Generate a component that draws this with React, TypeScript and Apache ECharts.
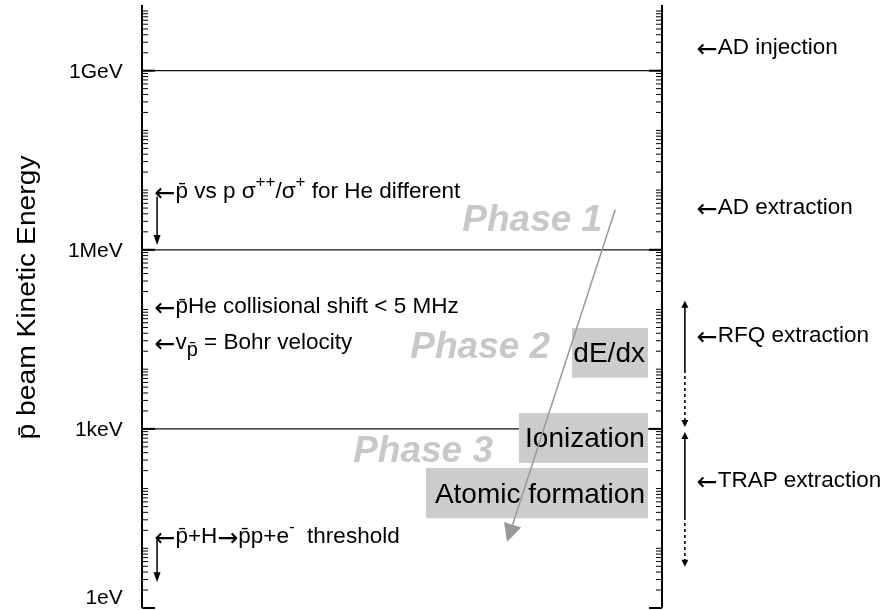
import React, { useEffect, useRef } from "react";
import * as echarts from "echarts";

// ---------- data ----------
const Y_MIN_EV = 1;
const Y_MAX_EV = 1.26e10;

const majorEnergies = [1, 1e3, 1e6, 1e9];
const majorLabels = ["1eV", "1keV", "1MeV", "1GeV"];
const tickDecades = [1, 10, 100, 1e3, 1e4, 1e5, 1e6, 1e7, 1e8, 1e9];
const tickMultipliers = [2, 3, 4, 5, 6, 7, 8, 9, 10];

const yTitle = "p\u0304 beam Kinetic Energy";

const leftNotes = [
  "{ar|\u2190}{n|p\u0304 vs p \u03c3}{sup|++}{n|/\u03c3}{sup|+}{n| for He different}",
  "{ar|\u2190}{n|p\u0304He collisional shift < 5 MHz}",
  "{ar|\u2190}{n|v}{sub|p\u0304}{n| = Bohr velocity}",
  "{ar|\u2190}{n|p\u0304+H}{ar|\u2192}{n|p\u0304p+e}{sup|-}{n|  threshold}",
];
const leftNoteEnergies = [1.0e7, 1.15e5, 2.9e4, 16.7];
const leftArrowFrom = [7.7e6, 13.8];
const leftArrowTo = [1.2e6, 2.7];

const rightNotes = [
  "{ar|\u2190}{n|AD injection}",
  "{ar|\u2190}{n|AD extraction}",
  "{ar|\u2190}{n|RFQ extraction}",
  "{ar|\u2190}{n|TRAP extraction}",
];
const rightNoteEnergies = [2.5e9, 5.3e6, 3.8e4, 140];
const rangeTop = [1.4e5, 891];
const rangeSolidEnd = [9.7e3, 33.5];
const rangeBottom = [1.08e3, 4.9];

const phaseNames = ["Phase 1", "Phase 2", "Phase 3"];
const phaseEnergies = [3.4e6, 2.5e4, 445];

const processNames = ["dE/dx", "Ionization", "Atomic formation"];
const processTop = [4.9e4, 1.85e3, 222];
const processBottom = [7.2e3, 269, 32];

const pathEnergies = [4.7e6, 12.8];

// ---------- layout / style ----------
const GRID = { left: 142, top: 5, width: 520, height: 603 };
const FONT = '"Liberation Sans", Arial, Helvetica, sans-serif';
const ARROW_FONT = '"DejaVu Sans", sans-serif';
const NOTE_SIZE = 22.5;
const MAJOR_TICK = 13;
const MINOR_TICK = 6;
const X_AXIS_LABEL = -3.7;
const X_LEFT_NOTE = 2.4;
const X_LEFT_ARROW = 2.9;
const X_RIGHT_NOTE = 106.7;
const X_RIGHT_ARROW = 104.4;
const PHASE_RIGHT_X = [88.5, 78.5, 67.5];
const PROCESS_LEFT_X = [82.7, 72.5, 54.6];
const PROCESS_RIGHT_X = 97.3;
const PATH_X = [91.0, 70.2];
const MIN_LABEL_SHIFT = -12;

function arrowHead(tip: number[], from: number[], len: number, half: number) {
  const dx = tip[0] - from[0];
  const dy = tip[1] - from[1];
  const L = Math.hypot(dx, dy) || 1;
  const ux = dx / L;
  const uy = dy / L;
  const bx = tip[0] - ux * len;
  const by = tip[1] - uy * len;
  return [
    [tip[0], tip[1]],
    [bx - uy * half, by + ux * half],
    [bx + uy * half, by - ux * half],
  ];
}

export default function App() {
  const ref = useRef<HTMLDivElement>(null);
  useEffect(() => {
    const chart = echarts.init(ref.current!, null, { renderer: "svg" });
    chart.setOption({
      animation: false,
      grid: { left: GRID.left, top: GRID.top, width: GRID.width, height: GRID.height },
      xAxis: { type: "value", min: 0, max: 100, show: false },
      yAxis: { type: "value", min: Math.log10(Y_MIN_EV), max: Math.log10(Y_MAX_EV), show: false },
      series: [{ type: "scatter", data: [] }],
    });
    const P = (x: number, e: number) =>
      chart.convertToPixel({ gridIndex: 0 } as any, [x, Math.log10(e)]) as number[];

    const g: any[] = [];
    const xL = P(0, 1)[0];
    const xR = P(100, 1)[0];
    const yTop = P(0, Y_MAX_EV)[1];
    const yBot = P(0, Y_MIN_EV)[1];

    const line = (x1: number, y1: number, x2: number, y2: number, style: any, z = 1) =>
      g.push({ type: "line", silent: true, z, shape: { x1, y1, x2, y2 }, style: { stroke: "#000", ...style } });

    // split lines
    majorEnergies.forEach((e) => {
      if (e === Y_MIN_EV) return;
      const y = P(0, e)[1];
      line(xL, y, xR, y, { lineWidth: 1.2, stroke: "#111" }, 1);
    });

    // process boxes
    processNames.forEach((name, i) => {
      const a = P(PROCESS_LEFT_X[i], processTop[i]);
      const b = P(PROCESS_RIGHT_X, processBottom[i]);
      g.push({
        type: "rect",
        silent: true,
        z: 2,
        shape: { x: a[0], y: a[1], width: b[0] - a[0], height: b[1] - a[1] },
        style: { fill: "#cccccc" },
      });
      g.push({
        type: "text",
        silent: true,
        z: 3,
        x: b[0] - 3,
        y: (a[1] + b[1]) / 2,
        style: {
          text: name,
          fontSize: 28,
          fontFamily: FONT,
          fill: "#000",
          align: "right",
          verticalAlign: "middle",
        },
      });
    });

    // phase labels
    phaseNames.forEach((name, i) => {
      const p = P(PHASE_RIGHT_X[i], phaseEnergies[i]);
      g.push({
        type: "text",
        silent: true,
        z: 3,
        x: p[0],
        y: p[1],
        style: {
          text: name,
          fontSize: 37,
          fontWeight: "bold",
          fontStyle: "italic",
          fontFamily: FONT,
          fill: "#c8c8c8",
          align: "right",
          verticalAlign: "middle",
        },
      });
    });

    // axis lines
    line(xL, yTop, xL, yBot, { lineWidth: 2 }, 5);
    line(xR, yTop, xR, yBot, { lineWidth: 2 }, 5);

    // major ticks + labels
    majorEnergies.forEach((e, i) => {
      const y = P(0, e)[1];
      line(xL, y, xL + MAJOR_TICK, y, { lineWidth: 2 }, 5);
      line(xR - MAJOR_TICK, y, xR, y, { lineWidth: 2 }, 5);
      const lp = P(X_AXIS_LABEL, e);
      g.push({
        type: "text",
        silent: true,
        z: 5,
        x: lp[0],
        y: lp[1] + (e === Y_MIN_EV ? MIN_LABEL_SHIFT : 0),
        style: {
          text: majorLabels[i],
          fontSize: 21,
          fontFamily: FONT,
          fill: "#000",
          align: "right",
          verticalAlign: "middle",
        },
      });
    });

    // minor ticks
    tickDecades.forEach((d) => {
      tickMultipliers.forEach((k) => {
        const e = k * d;
        if (e > Y_MAX_EV) return;
        if (majorEnergies.some((m) => Math.abs(m - e) / m < 1e-9)) return;
        const y = P(0, e)[1];
        line(xL, y, xL + MINOR_TICK, y, { lineWidth: 1 }, 5);
        line(xR - MINOR_TICK, y, xR, y, { lineWidth: 1 }, 5);
      });
    });

    // y title
    g.push({
      type: "text",
      silent: true,
      z: 5,
      x: 27,
      y: (yTop + yBot) / 2 - 9,
      rotation: Math.PI / 2,
      scaleX: 1.13,
      style: {
        text: yTitle,
        fontSize: 25,
        fontFamily: FONT,
        fill: "#000",
        align: "center",
        verticalAlign: "middle",
      },
    });

    const rich = {
      n: { fontSize: NOTE_SIZE, fontFamily: FONT, fill: "#000", lineHeight: 30 },
      ar: { fontSize: 25, fontFamily: ARROW_FONT, fill: "#000", lineHeight: 30, padding: [4, 0, 0, 0] },
      sup: { fontSize: 17, fontFamily: FONT, fill: "#000", lineHeight: 30, padding: [0, 0, 17, 0] },
      sub: { fontSize: 20, fontFamily: FONT, fill: "#000", lineHeight: 30, padding: [14, 0, 0, 0] },
    };

    // left notes
    leftNotes.forEach((t, i) => {
      const p = P(X_LEFT_NOTE, leftNoteEnergies[i]);
      g.push({
        type: "text",
        silent: true,
        z: 6,
        x: p[0],
        y: p[1],
        style: { text: t, rich, fontSize: NOTE_SIZE, fontFamily: FONT, fill: "#000", align: "left", verticalAlign: "middle" },
      });
    });
    leftArrowFrom.forEach((e, i) => {
      const a = P(X_LEFT_ARROW, e);
      const b = P(X_LEFT_ARROW, leftArrowTo[i]);
      line(a[0], a[1], b[0], b[1] - 8, { lineWidth: 1.5 }, 6);
      g.push({ type: "polygon", silent: true, z: 6, shape: { points: arrowHead(b, a, 10, 3.5) }, style: { fill: "#000" } });
    });

    // right notes
    rightNotes.forEach((t, i) => {
      const p = P(X_RIGHT_NOTE, rightNoteEnergies[i]);
      g.push({
        type: "text",
        silent: true,
        z: 6,
        x: p[0],
        y: p[1],
        style: { text: t, rich, fontSize: NOTE_SIZE, fontFamily: FONT, fill: "#000", align: "left", verticalAlign: "middle" },
      });
    });
    rangeTop.forEach((e, i) => {
      const t = P(X_RIGHT_ARROW, e);
      const m = P(X_RIGHT_ARROW, rangeSolidEnd[i]);
      const b = P(X_RIGHT_ARROW, rangeBottom[i]);
      line(t[0], t[1] + 5, m[0], m[1], { lineWidth: 1.6 }, 6);
      line(m[0], m[1], b[0], b[1] - 5, { lineWidth: 1.6, lineDash: [3, 3] }, 6);
      g.push({ type: "polygon", silent: true, z: 6, shape: { points: arrowHead(t, m, 7, 3.5) }, style: { fill: "#000" } });
      g.push({ type: "polygon", silent: true, z: 6, shape: { points: arrowHead(b, m, 7, 3.5) }, style: { fill: "#000" } });
    });

    // slowing-down path arrow
    const s = P(PATH_X[0], pathEnergies[0]);
    const tip = P(PATH_X[1], pathEnergies[1]);
    const head = arrowHead(tip, s, 18, 9);
    const baseMid = [(head[1][0] + head[2][0]) / 2, (head[1][1] + head[2][1]) / 2];
    line(s[0], s[1], baseMid[0], baseMid[1], { lineWidth: 1.5, stroke: "#999999" }, 8);
    g.push({ type: "polygon", silent: true, z: 8, shape: { points: head }, style: { fill: "#999999" } });

    chart.setOption({ graphic: { elements: g } });
    return () => chart.dispose();
  }, []);
  return <div ref={ref} style={{ position: "fixed", left: 0, top: 0, width: 888, height: 610 }} />;
}
